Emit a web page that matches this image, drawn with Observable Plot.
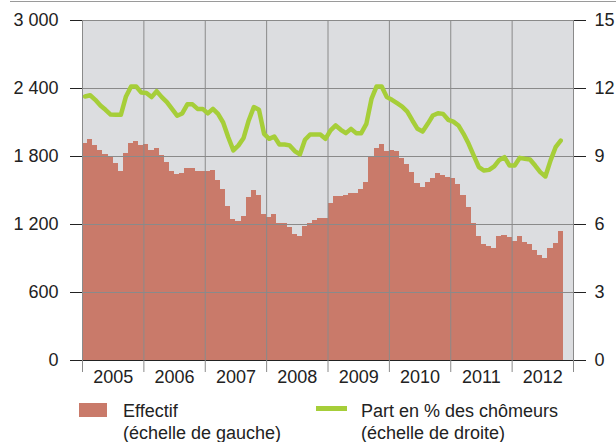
<!DOCTYPE html>
<html>
<head>
<meta charset="utf-8">
<script src="https://cdn.jsdelivr.net/npm/d3@7"></script>
<script src="https://cdn.jsdelivr.net/npm/@observablehq/plot@0.6"></script>
<style>
  body { margin: 0; background: white; font-family: "Liberation Sans", Arial, sans-serif; color: #222; }
  #wrap { position: relative; width: 616px; height: 442px; overflow: hidden; }
  #topline { position: absolute; top: 1px; left: 10px; width: 606px; height: 1px; background: #9a9a9a; }
  #chart { position: absolute; top: 0; left: 0; }
  .leg { position: absolute; font-size: 18px; line-height: 22px; }
  .sw { position: absolute; }
</style>
</head>
<body>
<div id="wrap">
  <div id="chart"></div>
  <div id="topline"></div>
  <div class="sw" style="left:79px; top:403px; width:28px; height:14px; background:#c97a6a;"></div>
  <div class="leg" style="left:123px; top:400px;">Effectif<br>(échelle de gauche)</div>
  <div class="sw" style="left:316px; top:406px; width:31px; height:5px; background:#a6ce39;"></div>
  <div class="leg" style="left:361px; top:400px;">Part en % des chômeurs<br>(échelle de droite)</div>
</div>
<script>
const years = ["2005", "2006", "2007", "2008", "2009", "2010", "2011", "2012"];

// Effectif (left axis), monthly Jan 2005 – Oct 2012
const effectif = [
  1918, 1950, 1897, 1853, 1818, 1788, 1738, 1668, 1826, 1915, 1932, 1897,
  1906, 1850, 1870, 1806, 1747, 1665, 1641, 1647, 1694, 1694, 1668, 1668,
  1668, 1676, 1591, 1512, 1359, 1244, 1226, 1271, 1435, 1500, 1456, 1288,
  1265, 1288, 1206, 1206, 1177, 1112, 1097, 1186, 1212, 1235, 1256, 1256,
  1385, 1447, 1447, 1459, 1474, 1474, 1512, 1571, 1791, 1870, 1909, 1847,
  1850, 1844, 1782, 1729, 1659, 1562, 1530, 1571, 1603, 1647, 1629, 1618,
  1606, 1553, 1456, 1353, 1206, 1097, 1024, 1009, 991, 1097, 1103, 1088,
  1050, 1094, 1039, 1024, 971, 930, 903, 986, 1030, 1139
];

// Part en % des chômeurs (right axis)
const part = [
  11.65, 11.7, 11.5, 11.25, 11.06, 10.85, 10.84, 10.84, 11.65, 12.09, 12.09, 11.82,
  11.8, 11.62, 11.88, 11.62, 11.4, 11.1, 10.8, 10.9, 11.3, 11.3, 11.1, 11.1,
  10.9, 11.1, 10.88, 10.5, 9.85, 9.27, 9.49, 9.82, 10.59, 11.18, 11.06, 10.0,
  9.78, 9.88, 9.53, 9.53, 9.49, 9.24, 9.09, 9.74, 9.97, 9.97, 9.97, 9.78,
  10.15, 10.37, 10.18, 10.03, 10.22, 10.03, 10.03, 10.44, 11.54, 12.09, 12.09, 11.62,
  11.5, 11.35, 11.2, 10.98, 10.59, 10.22, 10.1, 10.44, 10.81, 10.91, 10.88, 10.62,
  10.54, 10.37, 10.0, 9.56, 9.04, 8.53, 8.38, 8.41, 8.56, 8.85, 8.97, 8.6,
  8.6, 8.94, 8.9, 8.87, 8.6, 8.31, 8.12, 8.82, 9.41, 9.7
];

const leftTicks = [0, 600, 1200, 1800, 2400, 3000];
const rightTicks = [0, 3, 6, 9, 12, 15];
const ratio = 3000 / 15;

const firstYear = +years[0];
const data = effectif.map((v, i) => ({ t: firstYear + i / 12, v, p: part[i] * ratio }));
const yearBounds = d3.range(firstYear, firstYear + years.length + 1);
const yearMids = years.map((y, i) => firstYear + i + 0.5);

const fmt = d => d >= 1000 ? `${Math.floor(d / 1000)} ${String(d % 1000).padStart(3, "0")}` : `${d}`;

const chart = Plot.plot({
  width: 616,
  height: 395,
  marginLeft: 82,
  marginRight: 43,
  marginTop: 20,
  marginBottom: 35,
  x: { domain: [firstYear, firstYear + years.length], label: null },
  y: { domain: [0, 3000], label: null },
  style: { fontFamily: "'Liberation Sans', Arial, sans-serif", fontSize: "18px", color: "#222", background: "transparent", overflow: "visible" },
  marks: [
    Plot.frame({ fill: "#dcdde0", stroke: null }),
    Plot.rectY(data, { x1: "t", x2: d => d.t + 1 / 12, y: "v", fill: "#c97a6a", shapeRendering: "crispEdges" }),
    Plot.gridY(leftTicks, { stroke: "#8a8a8a", strokeOpacity: 1, strokeWidth: 1 }),
    Plot.gridX(yearBounds, { stroke: "#8a8a8a", strokeOpacity: 1, strokeWidth: 1 }),
    Plot.line(data, { x: d => d.t + 1 / 24, y: "p", stroke: "#a6ce39", strokeWidth: 4.5, strokeLinejoin: "round" }),
    Plot.ruleY([0], { stroke: "#222", strokeWidth: 1.2 }),
    Plot.axisY(leftTicks, { anchor: "left", tickSize: 12, tickPadding: 12, tickFormat: fmt, stroke: "#222", label: null }),
    Plot.axisY(leftTicks, { anchor: "right", tickSize: 12, tickPadding: 9, tickFormat: d => `${rightTicks[leftTicks.indexOf(d)]}`, stroke: "#222", label: null }),
    Plot.axisX(yearBounds, { tickSize: 12, tickFormat: () => "", stroke: "#8a8a8a", label: null }),
    Plot.axisX(yearMids, { tickSize: 0, tickPadding: 10, tickFormat: (d, i) => years[i], label: null })
  ]
});
document.getElementById("chart").appendChild(chart);
</script>
</body>
</html>
